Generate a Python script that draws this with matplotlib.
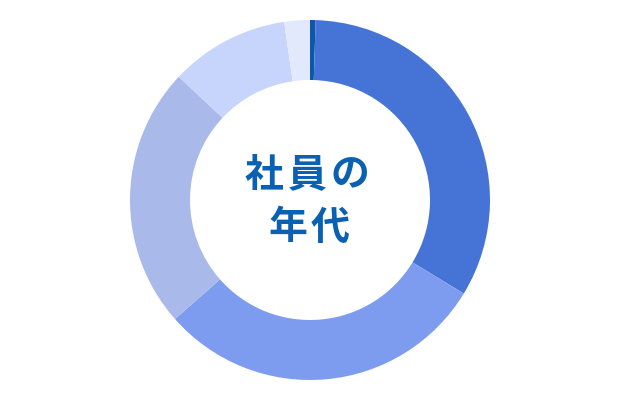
import matplotlib
matplotlib.use("Agg")
import matplotlib.pyplot as plt

# Data (share of employees by age group)
categories = ["10代", "20代", "30代", "40代", "50代", "60代"]
values = [0.5, 33.2, 29.8, 23.5, 10.7, 2.3]
colors = ["#0b57a8", "#4674d6", "#7e9cef", "#a9b9ea", "#c7d5fd", "#e3e9fc"]
title_lines = ["社員の", "年代"]

plt.rcParams['font.family'] = ['Noto Sans CJK JP', 'DejaVu Sans']

W, H = 620, 400
fig = plt.figure(figsize=(W / 100, H / 100), dpi=100)
ax = fig.add_axes([0, 0, 1, 1])
ax.set_xlim(-W / 2, W / 2)
ax.set_ylim(-H / 2, H / 2)
ax.set_aspect('equal')
ax.axis('off')

ax.pie(values, colors=colors, startangle=90, counterclock=False,
       radius=180, center=(0, 0),
       wedgeprops=dict(width=60, edgecolor='none', linewidth=0))
ax.set_xlim(-W / 2, W / 2)
ax.set_ylim(-H / 2, H / 2)

# centre title with letter spacing: each character placed separately
spacing = 43
line_y = [25, -28]
line_shift = [-3, -1]
for line, y, sh in zip(title_lines, line_y, line_shift):
    n = len(line)
    for i, ch in enumerate(line):
        x = sh + (i - (n - 1) / 2) * spacing
        ax.text(x, y, ch, ha='center', va='center', fontsize=28,
                fontweight='bold', color='#0a60b2')

fig.savefig("out.png", dpi=100)
